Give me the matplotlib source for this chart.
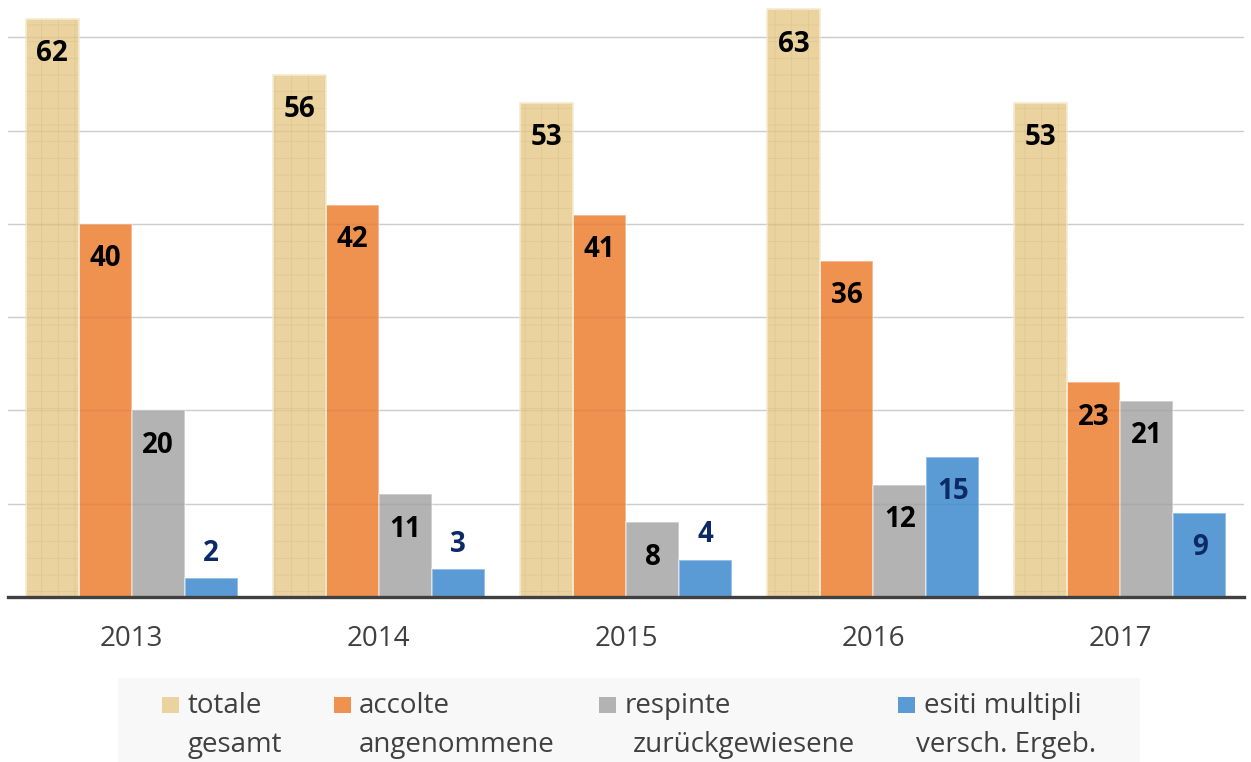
import numpy as np
import matplotlib
matplotlib.use("Agg")
import matplotlib.pyplot as plt
from matplotlib.patches import Rectangle

plt.rcParams['font.family'] = ['Open Sans', 'DejaVu Sans']
plt.rcParams['hatch.linewidth'] = 0.5

years = ['2013', '2014', '2015', '2016', '2017']
totale = [62, 56, 53, 63, 53]
accolte = [40, 42, 41, 36, 23]
respinte = [20, 11, 8, 12, 21]
esiti = [2, 3, 4, 15, 9]

series = [totale, accolte, respinte, esiti]
colors = ['#ead39e', '#ef914f', '#b3b3b3', '#5b9bd5']
label_colors = ['black', 'black', 'black', '#0c2a66']
legend_l1 = ['totale', 'accolte', 'respinte', 'esiti multipli']
legend_l2 = ['gesamt', 'angenommene', 'zurückgewiesene', 'versch. Ergeb.']

W, H = 1251, 762
fig = plt.figure(figsize=(W / 100, H / 100), dpi=100)
ax = fig.add_axes([8 / W, (H - 597) / H, (1244 - 8) / W, 597 / H])

x = np.arange(len(years))
w = 0.2146
offs = [-1.5, -0.5, 0.5, 1.5]

ax.set_ylim(0, 64)
ax.set_xlim(-0.5, 4.5)
ax.set_yticks([10, 20, 30, 40, 50, 60])
ax.yaxis.grid(True, color='#d9d9d9', lw=1.0, zorder=0)
ax.set_axisbelow(True)
ax.tick_params(axis='y', left=False, labelleft=False)

for i, vals in enumerate(series):
    xs = x + offs[i] * w
    if i == 0:
        # papyrus-like fill
        ax.bar(xs, vals, w, color=colors[0], edgecolor='#dec792', lw=0,
               hatch='+', zorder=2)
        ax.bar(xs, vals, w, facecolor='none', edgecolor='#f6ebcf', lw=1.2, zorder=3)
    else:
        ax.bar(xs, vals, w, color=colors[i], edgecolor=(1, 1, 1, 0.45), lw=1.2, zorder=2)
    for xx, v in zip(xs, vals):
        if v < 5:
            off = 18
        else:
            off = -25
        ax.annotate(str(v), (xx, v), xytext=(0, off), textcoords='offset points',
                    ha='center', va='center', fontsize=20, fontweight='bold',
                    color=label_colors[i], zorder=5)

# faint grid showing through the bars
for gy in [10, 20, 30, 40, 50, 60]:
    ax.axhline(gy, color='#000000', alpha=0.05, lw=1.0, zorder=4)

for s in ['top', 'left', 'right']:
    ax.spines[s].set_visible(False)
ax.spines['bottom'].set_color('#404040')
ax.spines['bottom'].set_linewidth(2.4)
ax.spines['bottom'].set_zorder(6)

ax.set_xticks(x)
ax.set_xticklabels(years, fontsize=20, color='#404040')
ax.tick_params(axis='x', length=0, pad=20)

# legend box
fig.patches.append(Rectangle((118 / W, 0), (1140 - 118) / W, (H - 678) / H,
                             transform=fig.transFigure, facecolor='#f8f8f8',
                             edgecolor='none', zorder=0))
hx = [162, 334, 599, 898]
tx1 = [188, 359, 625, 924]
tx2 = [188, 359, 633, 916]
for i in range(4):
    fig.patches.append(Rectangle((hx[i] / W, (H - 713) / H), 17 / W, 16 / H,
                                 transform=fig.transFigure, facecolor=colors[i],
                                 edgecolor='none', zorder=1))
    fig.text(tx1[i] / W, (H - 713) / H, legend_l1[i], fontsize=20, color='#404040',
             va='baseline', ha='left')
    fig.text(tx2[i] / W, (H - 752) / H, legend_l2[i], fontsize=20, color='#404040',
             va='baseline', ha='left')

fig.savefig('out.png', dpi=100)
